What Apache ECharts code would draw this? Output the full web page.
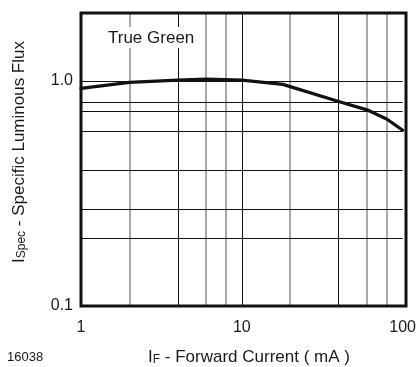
<!DOCTYPE html>
<html><head><meta charset="utf-8">
<script src="https://cdn.jsdelivr.net/npm/echarts@6/dist/echarts.min.js"></script>
<style>html,body{margin:0;padding:0;background:#fff}#c{width:419px;height:367px}</style>
</head><body><div id="c"></div>
<script>
var current = [1, 2, 4, 6, 10, 18, 40, 60, 80, 100];
var flux = [0.925, 0.984, 1.007, 1.018, 1.007, 0.964, 0.809, 0.743, 0.675, 0.603];
var xGridBlack = [4, 10, 40];
var xGridGray = [2, 6, 8, 20, 60, 80];
var yGridLines = [1.0, 0.8, 0.73, 0.6, 0.4, 0.27, 0.2];
var xTickLabels = ['1', '10', '100'];
var yTickLabels = ['0.1', '1.0'];
var seriesLabel = 'True Green';
var figId = '16038';

var FONT = '"Liberation Sans", Arial, sans-serif';
var TXT = '#1a1a1a';
var chart = echarts.init(document.getElementById('c'), null, {renderer: 'canvas'});

function ml(vals, axis, color, width) {
  return {
    symbol: 'none', silent: true, animation: false,
    label: {show: false},
    lineStyle: {color: color, width: width, type: 'solid'},
    data: vals.map(function (v) { var o = {}; o[axis] = v; return o; })
  };
}

chart.setOption({
  animation: false,
  backgroundColor: '#fff',
  grid: {left: 81, right: 13, top: 13, bottom: 61, show: false},
  xAxis: {
    type: 'log', logBase: 10, min: 1, max: 100,
    axisLine: {show: false}, axisTick: {show: false}, splitLine: {show: false},
    axisLabel: {
      color: TXT, fontFamily: FONT, fontSize: 16, margin: 14,
      showMaxLabel: true, showMinLabel: true,
      formatter: function (v) {
        var i = Math.round(Math.log10(v));
        return Math.abs(Math.log10(v) - i) < 1e-6 ? xTickLabels[i] : '';
      }
    }
  },
  yAxis: {
    type: 'log', logBase: 10, min: 0.1, max: 2,
    axisLine: {show: false}, axisTick: {show: false}, splitLine: {show: false},
    axisLabel: {
      color: TXT, fontFamily: FONT, fontSize: 16, margin: 8,
      showMaxLabel: false,
      formatter: function (v) {
        var l = Math.log10(v) + 1;
        var i = Math.round(l);
        return (Math.abs(l - i) < 1e-6 && yTickLabels[i] !== undefined) ? yTickLabels[i] : '';
      }
    }
  },
  series: [
    {
      type: 'line', data: [], silent: true,
      markLine: ml(xGridGray, 'xAxis', '#8c8c8c', 1.5)
    },
    {
      type: 'line', data: [], silent: true,
      markLine: ml(xGridBlack, 'xAxis', '#111', 1)
    },
    {
      type: 'line', data: [], silent: true,
      markLine: ml(yGridLines, 'yAxis', '#111', 1)
    },
    {
      type: 'line', name: seriesLabel, z: 5,
      data: current.map(function (x, i) { return [x, flux[i]]; }),
      showSymbol: false, smooth: false,
      lineStyle: {color: '#111', width: 3.3, join: 'round', cap: 'round'}
    }
  ],
  graphic: [
    {type: 'rect', z: 50, shape: {x: 81, y: 13, width: 325, height: 293},
     style: {fill: 'none', stroke: '#111', lineWidth: 3}},
    {type: 'rect', z: 40, shape: {x: 102, y: 27, width: 100, height: 21},
     style: {fill: '#fff'}},
    {type: 'text', z: 45, x: 108, y: 38.5,
     style: {text: seriesLabel, font: '17px ' + FONT, fill: TXT, textVerticalAlign: 'middle'}},
    {type: 'text', z: 45, x: 7, y: 357,
     style: {text: figId, font: '13px ' + FONT, fill: TXT, textVerticalAlign: 'middle'}},
    {type: 'text', z: 45, x: 249, y: 356,
     style: {
       text: '{m|I}{s|F}{m| - Forward Current ( mA )}',
       textAlign: 'center', textVerticalAlign: 'middle',
       rich: {
         m: {font: '17px ' + FONT, fill: TXT, lineHeight: 20, verticalAlign: 'bottom'},
         s: {font: '12px ' + FONT, fill: TXT, lineHeight: 16, verticalAlign: 'bottom', padding: [6, 0, 0, 0]}
       }
     }},
    {type: 'text', z: 45, x: 18, y: 152, rotation: Math.PI / 2,
     style: {
       text: '{m|I}{s|Spec}{m| - Specific Luminous Flux}',
       textAlign: 'center', textVerticalAlign: 'middle',
       rich: {
         m: {font: '17px ' + FONT, fill: TXT, lineHeight: 20, verticalAlign: 'bottom'},
         s: {font: '12px ' + FONT, fill: TXT, lineHeight: 16, verticalAlign: 'bottom', padding: [6, 0, 0, 0]}
       }
     }}
  ]
});
</script></body></html>
